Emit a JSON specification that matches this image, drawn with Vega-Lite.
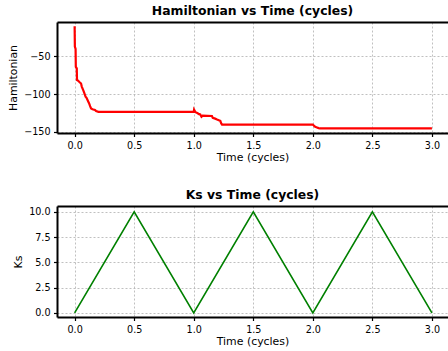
{
  "$schema": "https://vega.github.io/schema/vega-lite/v6.json",
  "padding": {"left": 7, "top": 5, "right": 0, "bottom": 0},
  "autosize": {"type": "pad"},
  "spacing": 73,
  "bounds": "flush",
  "config": {
    "font": "DejaVu Sans",
    "view": {"stroke": null},
    "axis": {
      "domainColor": "black", "domainWidth": 2,
      "tickColor": "black", "tickWidth": 1.2, "tickSize": 3.5,
      "labelFont": "DejaVu Sans", "labelFontSize": 9.6, "labelColor": "black", "labelPadding": 3.5,
      "labelFlush": false, "labelOverlap": false,
      "titleFont": "DejaVu Sans", "titleFontSize": 10.9, "titleFontWeight": "normal", "titleColor": "black",
      "gridColor": "#b0b0b0", "gridDash": [2, 2], "gridWidth": 0.8
    },
    "axisX": {"titlePadding": 1.5, "labelPadding": 4},
    "axisY": {"titlePadding": 5},
    "title": {"font": "DejaVu Sans", "fontSize": 12.4, "fontWeight": "bold", "color": "black", "offset": 4.5, "baseline": "alphabetic", "anchor": "middle"}
  },
  "datasets": {
    "ham": [
      {"t": 0, "H": -10}, {"t": 0.002, "H": -37}, {"t": 0.008, "H": -40}, {"t": 0.010, "H": -64},
      {"t": 0.018, "H": -66}, {"t": 0.020, "H": -81.5}, {"t": 0.027, "H": -82}, {"t": 0.04, "H": -84},
      {"t": 0.054, "H": -86}, {"t": 0.06, "H": -90}, {"t": 0.073, "H": -95}, {"t": 0.08, "H": -98},
      {"t": 0.092, "H": -103.5}, {"t": 0.1, "H": -105}, {"t": 0.115, "H": -110}, {"t": 0.121, "H": -112},
      {"t": 0.13, "H": -116}, {"t": 0.138, "H": -119}, {"t": 0.15, "H": -120}, {"t": 0.171, "H": -121},
      {"t": 0.18, "H": -122.5}, {"t": 0.2, "H": -123.5}, {"t": 1.0, "H": -123.5}, {"t": 1.003, "H": -120.5},
      {"t": 1.008, "H": -122}, {"t": 1.015, "H": -124}, {"t": 1.03, "H": -125}, {"t": 1.045, "H": -126.5},
      {"t": 1.055, "H": -127}, {"t": 1.065, "H": -130}, {"t": 1.075, "H": -128.5}, {"t": 1.153, "H": -129},
      {"t": 1.16, "H": -131.5}, {"t": 1.18, "H": -132.5}, {"t": 1.196, "H": -133.6}, {"t": 1.21, "H": -134.5},
      {"t": 1.223, "H": -135.4}, {"t": 1.23, "H": -138.5}, {"t": 1.238, "H": -140.5}, {"t": 2.0, "H": -140.5},
      {"t": 2.008, "H": -141.5}, {"t": 2.017, "H": -143}, {"t": 2.03, "H": -144}, {"t": 2.049, "H": -145},
      {"t": 2.06, "H": -145.5}, {"t": 3.0, "H": -145.5}
    ],
    "ks": [
      {"t": 0, "Ks": 0}, {"t": 0.5, "Ks": 10}, {"t": 1.0, "Ks": 0}, {"t": 1.5, "Ks": 10},
      {"t": 2.0, "Ks": 0}, {"t": 2.5, "Ks": 10}, {"t": 3.0, "Ks": 0}
    ]
  },
  "vconcat": [
    {
      "width": 391, "height": 111,
      "title": {"text": "Hamiltonian vs Time (cycles)"},
      "data": {"name": "ham"},
      "encoding": {
        "y": {"field": "H", "type": "quantitative", "title": "Hamiltonian",
              "scale": {"domain": [-151.5, -4.5], "nice": false, "zero": false},
              "axis": {"values": [-150, -100, -50], "format": "d", "grid": true}}
      },
      "layer": [
        {
          "mark": {"type": "line", "color": "#ff0000", "strokeWidth": 2.2, "clip": true},
          "encoding": {
            "x": {"field": "t", "type": "quantitative", "title": "Time (cycles)",
                  "scale": {"domain": [-0.148, 3.135], "nice": false, "zero": false},
                  "axis": {"values": [0, 0.5, 1, 1.5, 2, 2.5, 3], "format": ".1f", "grid": true}}
          }
        },
        {
          "mark": {"type": "line", "opacity": 0},
          "encoding": {
            "x": {"field": "t", "type": "quantitative",
                  "axis": {"orient": "top", "labels": false, "ticks": false, "grid": false, "title": null, "domain": true}}
          }
        }
      ],
      "resolve": {"axis": {"x": "independent"}}
    },
    {
      "width": 391, "height": 111,
      "title": {"text": "Ks vs Time (cycles)"},
      "data": {"name": "ks"},
      "encoding": {
        "y": {"field": "Ks", "type": "quantitative", "title": "Ks",
              "scale": {"domain": [-0.4, 10.57], "nice": false, "zero": false},
              "axis": {"values": [0, 2.5, 5, 7.5, 10], "format": ".1f", "grid": true}}
      },
      "layer": [
        {
          "mark": {"type": "line", "color": "#008000", "strokeWidth": 1.6, "clip": true},
          "encoding": {
            "x": {"field": "t", "type": "quantitative", "title": "Time (cycles)",
                  "scale": {"domain": [-0.148, 3.135], "nice": false, "zero": false},
                  "axis": {"values": [0, 0.5, 1, 1.5, 2, 2.5, 3], "format": ".1f", "grid": true}}
          }
        },
        {
          "mark": {"type": "line", "opacity": 0},
          "encoding": {
            "x": {"field": "t", "type": "quantitative",
                  "axis": {"orient": "top", "labels": false, "ticks": false, "grid": false, "title": null, "domain": true}}
          }
        }
      ],
      "resolve": {"axis": {"x": "independent"}}
    }
  ]
}
